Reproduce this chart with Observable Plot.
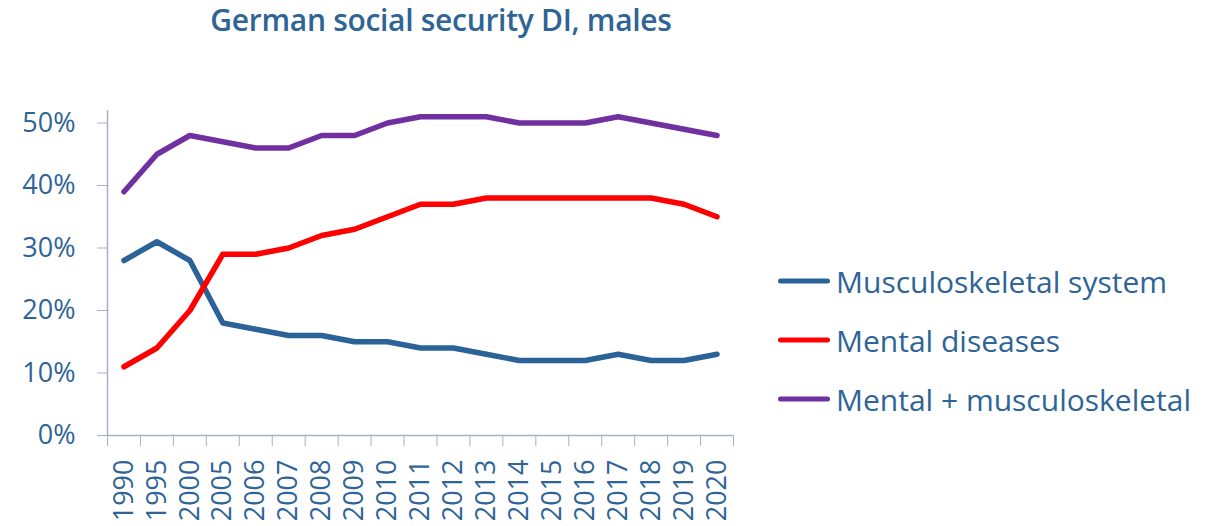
<!DOCTYPE html>
<html>
<head>
<meta charset="utf-8">
<script src="https://cdn.jsdelivr.net/npm/d3@7"></script>
<script src="https://cdn.jsdelivr.net/npm/@observablehq/plot@0.6"></script>
<style>
  html, body { margin: 0; padding: 0; background: #fff; }
  #wrap { position: relative; width: 1208px; height: 526px; font-family: "Open Sans", sans-serif; color: #2E6496; }
  #title { position: absolute; left: 0; width: 882px; top: -1px; text-align: center; font-size: 30px; font-weight: 600; letter-spacing: -0.3px; }
  #chart { position: absolute; left: 0; top: 60px; }
  #legend { position: absolute; left: 778px; top: 0; }
  .item { position: absolute; left: 0; display: flex; align-items: center; white-space: nowrap; font-size: 30px; transform: translateY(-50%); }
  .swatch { width: 52px; height: 5.5px; border-radius: 3px; margin-right: 6px; }
</style>
</head>
<body>
<div id="wrap">
  <div id="title">German social security DI, males</div>
  <div id="chart"></div>
  <div id="legend"></div>
</div>
<script>
// Share of disability-insurance inflows among German men, by diagnosis group
const years = ["1990","1995","2000","2005","2006","2007","2008","2009","2010","2011","2012","2013","2014","2015","2016","2017","2018","2019","2020"];
const musculoskeletal = [28,31,28,18,17,16,16,15,15,14,14,13,12,12,12,13,12,12,13];
const mental = [11,14,20,29,29,30,32,33,35,37,37,38,38,38,38,38,38,37,35];
const combined = [39,45,48,47,46,46,48,48,50,51,51,51,50,50,50,51,50,49,48];
const seriesNames = ["Musculoskeletal system", "Mental diseases", "Mental + musculoskeletal"];
const seriesColors = ["#2B6298", "#FF0000", "#7030A0"];
const yTicks = [0, 0.1, 0.2, 0.3, 0.4, 0.5];

const rows = [musculoskeletal, mental, combined].flatMap((vals, s) =>
  vals.map((v, i) => ({series: seriesNames[s], idx: i, value: v / 100}))
);

const axisColor = "#A3B1C9";
const textColor = "#2E6496";

const chart = Plot.plot({
  width: 1208,
  height: 466,
  marginLeft: 107,
  marginRight: 475,
  marginTop: 50,
  marginBottom: 91,
  style: {fontFamily: "'Open Sans', sans-serif", fontSize: "27px", color: textColor, background: "transparent"},
  x: {type: "linear", domain: [0, years.length]},
  y: {domain: [0, 0.52]},
  color: {domain: seriesNames, range: seriesColors},
  marks: [
    Plot.ruleX([0], {stroke: axisColor, strokeWidth: 1.5}),
    Plot.ruleY([0], {stroke: axisColor, strokeWidth: 1.5}),
    Plot.axisY({ticks: yTicks, tickFormat: d3.format(".0%"), tickSize: 10, tickPadding: 22, stroke: axisColor, strokeOpacity: 1, fill: textColor, label: null}),
    Plot.axisX({ticks: d3.range(years.length + 1), tickSize: 11, tickFormat: () => "", stroke: axisColor, strokeOpacity: 1, label: null}),
    Plot.axisX({ticks: years.map((_, i) => i + 0.5), tickSize: 0, tickPadding: 24, tickRotate: -90,
      tickFormat: v => years[Math.floor(v)], fill: textColor, label: null}),
    Plot.lineY(rows, {x: d => d.idx + 0.5, y: "value", z: "series", stroke: "series",
      strokeWidth: 5.5, strokeLinecap: "round", strokeLinejoin: "round"})
  ]
});
document.getElementById("chart").appendChild(chart);

// Legend: swatch + label per series
const legend = document.getElementById("legend");
const legendY = [281, 340, 399];
seriesNames.forEach((name, i) => {
  const item = document.createElement("div");
  item.className = "item";
  item.style.top = legendY[i] + "px";
  const sw = document.createElement("div");
  sw.className = "swatch";
  sw.style.background = seriesColors[i];
  const label = document.createElement("span");
  label.textContent = name;
  item.appendChild(sw);
  item.appendChild(label);
  legend.appendChild(item);
});
</script>
</body>
</html>
